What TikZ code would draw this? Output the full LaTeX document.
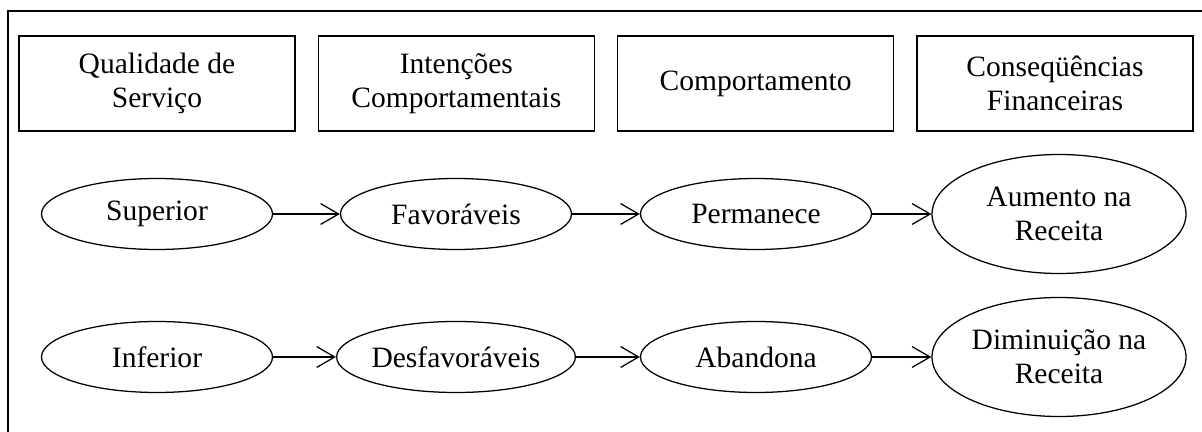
\documentclass[tikz,border=0pt]{standalone}
\usepackage{fontspec}
\setmainfont{Liberation Serif}
\usetikzlibrary{shapes.geometric,arrows.meta}
\begin{document}
\begin{tikzpicture}[
  box/.style={draw, line width=0.75pt, rectangle, align=center, inner sep=0pt,
              minimum width=6.9cm, minimum height=2.375cm, font=\fontsize{21}{24}\selectfont},
  ell/.style={draw, line width=0.9pt, ellipse, align=center, inner sep=0pt,
              minimum width=5.775cm, minimum height=1.775cm, font=\fontsize{21}{24}\selectfont},
  big/.style={ell, minimum width=6.35cm, minimum height=2.975cm},
  ar/.style={-{Straight Barb[length=4.5mm, width=5.2mm, line width=0.9pt]}, line width=0.9pt},
]
\useasboundingbox (0,0) rectangle (30.05,10.8);
% outer frame, cut at right and bottom
\draw[line width=1.5pt] (0.2,-1) |- (31,10.525);

\node[box] (qs) at (3.925,8.7125) {Qualidade de\\Serviço};
\node[box] (ic) at (11.41,8.7125) {Intenções\\Comportamentais};
\node[box] (cp) at (18.89,8.7125) {Comportamento};
\node[box] (cf) at (26.375,8.7125) {Conseqüências\\Financeiras};

\node[ell] (sup) at (3.925,5.45) {Superior};
\node[ell] (fav) at (11.4,5.45) {Favoráveis};
\node[ell] (per) at (18.9,5.45) {Permanece};
\node[big] (aum) at (26.475,5.45) {Aumento na\\Receita};

\node[ell] (inf) at (3.925,1.875) {Inferior};
\node[ell] (des) at (11.4,1.875) {Desfavoráveis};
\node[ell] (aba) at (18.9,1.875) {Abandona};
\node[big] (dim) at (26.475,1.875) {Diminuição na\\Receita};

\draw[ar] (sup) -- (fav);
\draw[ar] (fav) -- (per);
\draw[ar] (per) -- (aum);
\draw[ar] (inf) -- (des);
\draw[ar] (des) -- (aba);
\draw[ar] (aba) -- (dim);
\end{tikzpicture}
\end{document}
